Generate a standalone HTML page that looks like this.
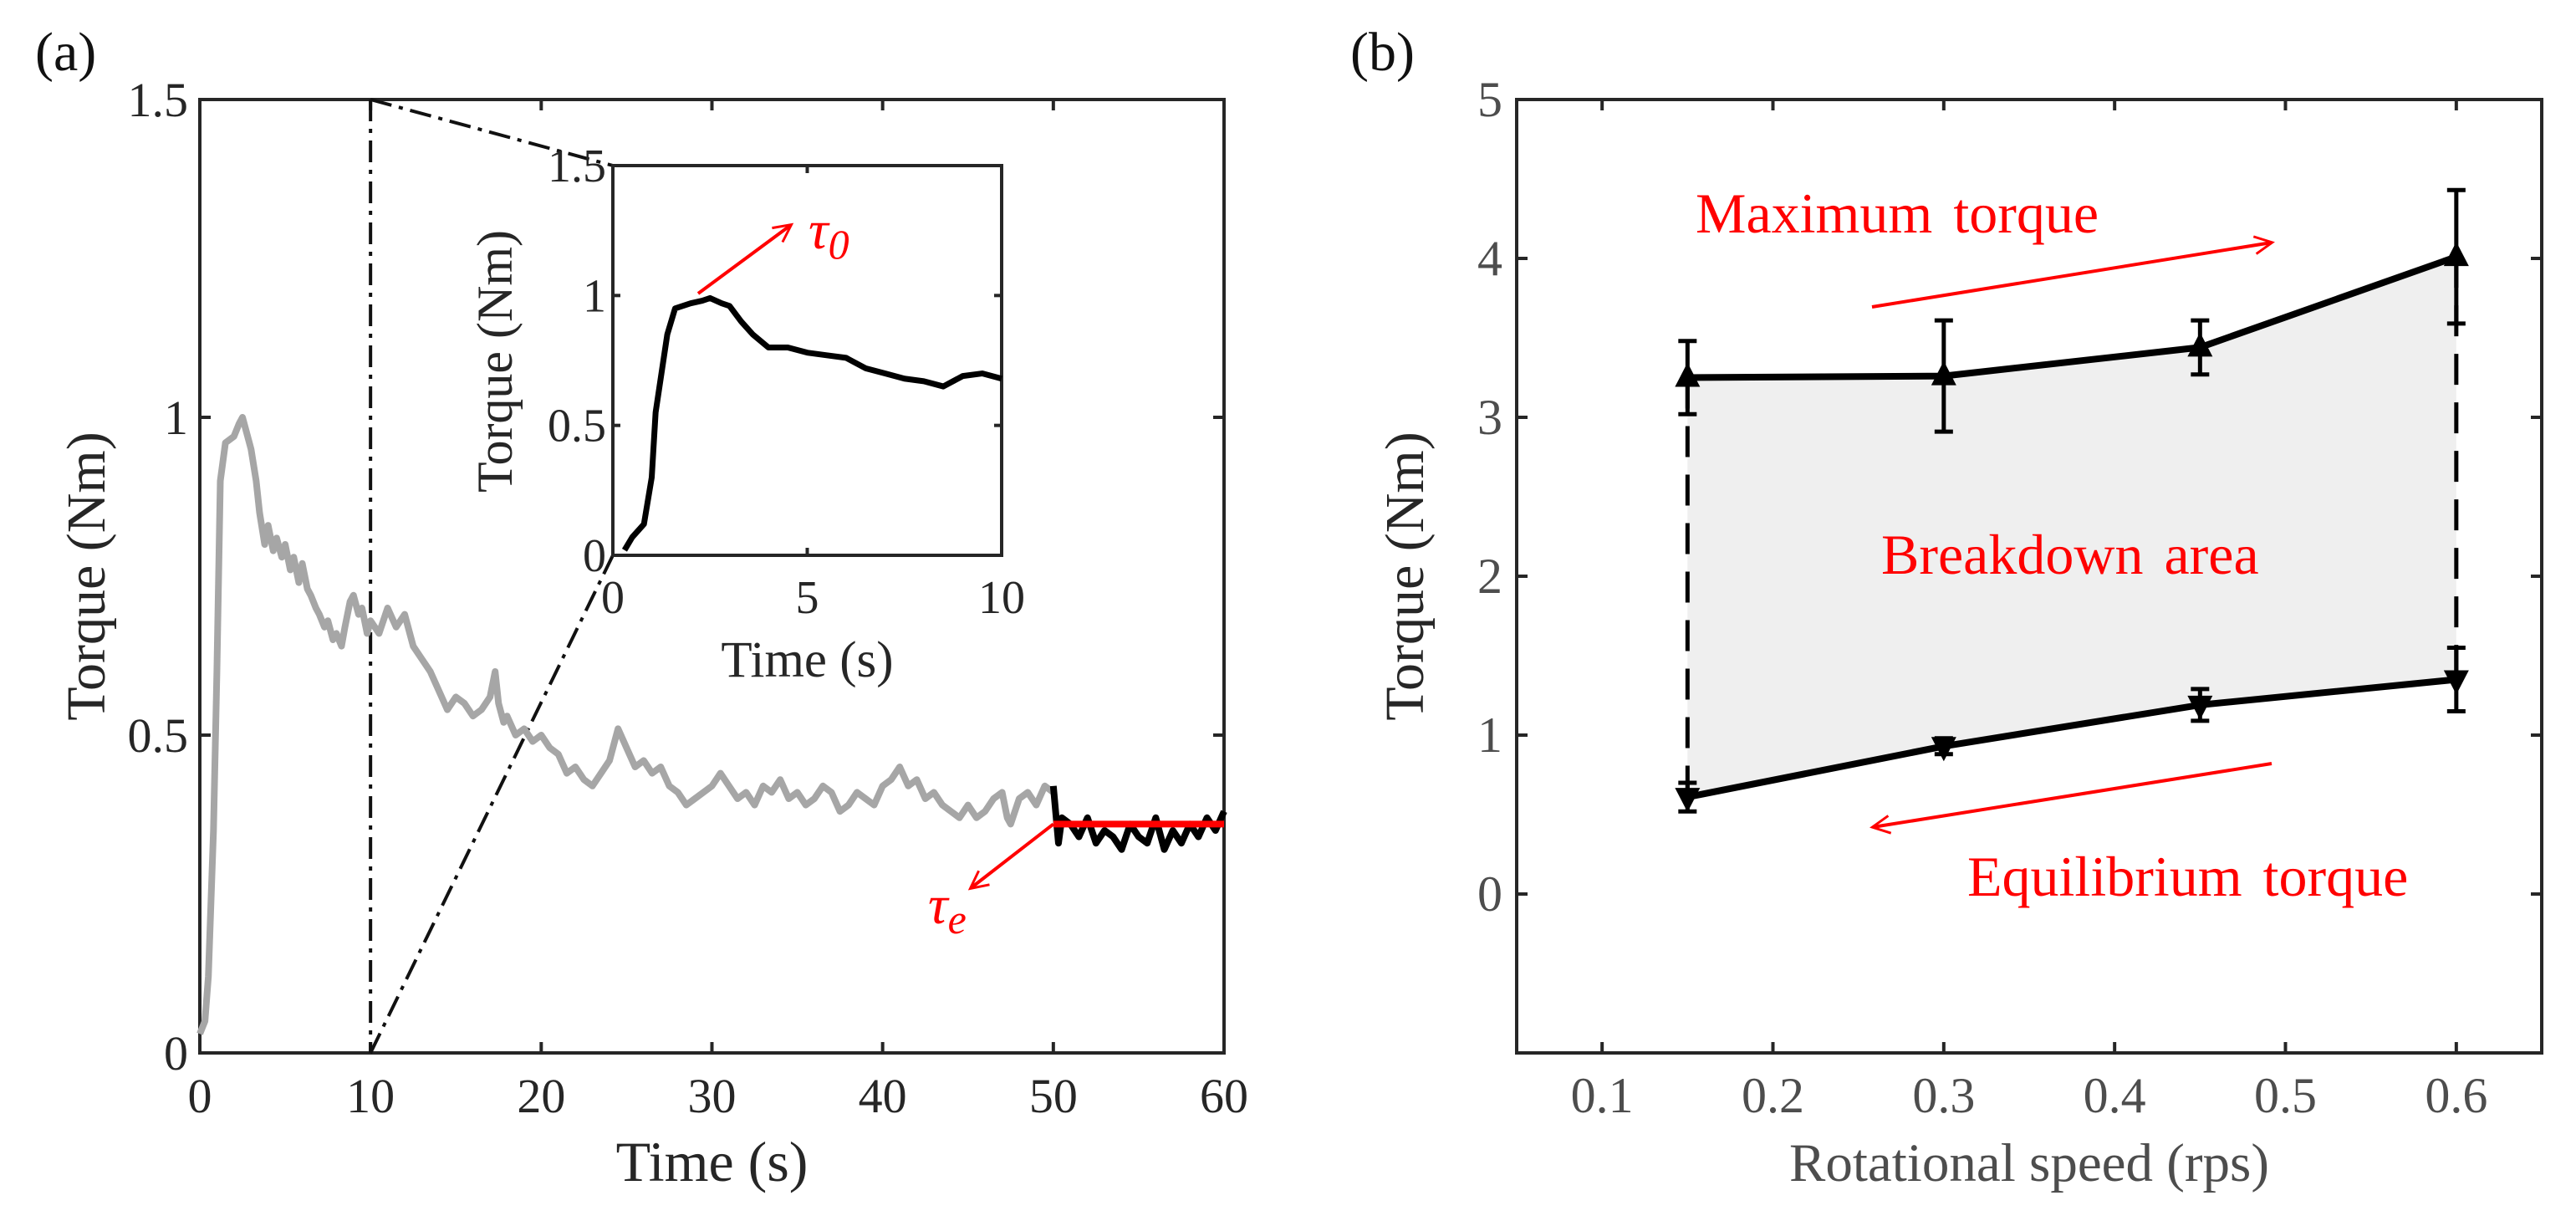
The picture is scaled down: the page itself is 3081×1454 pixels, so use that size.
<!DOCTYPE html>
<html><head><meta charset="utf-8"><style>
html,body{margin:0;padding:0;background:#fff;overflow:hidden}
svg{display:block;font-family:"Liberation Serif",serif}
</style></head><body>
<svg id="fig" width="3081" height="1454" viewBox="0 0 3081 1454">
<defs>
<marker id="ah" viewBox="0 0 10 10" refX="9" refY="5" markerWidth="7" markerHeight="7" orient="auto-start-reverse" markerUnits="userSpaceOnUse" style="overflow:visible">
<path d="M0,0 L10,5 L0,10" fill="none" stroke="#ff0000" stroke-width="1.4" transform="scale(3)" transform-origin="10 5"/>
</marker>
</defs>
<g id="pa"></g>
<g id="pb"></g>
</svg>
<script>
// ---- Panel (a) data ----
const grayT = [0,0.3,0.5,0.8,1,1.2,1.5,2,2.3,2.5,2.8,3,3.3,3.5,3.8,4,4.3,4.5,4.8,5,5.3,5.5,5.8,6,6.3,6.5,6.8,7,7.3,7.5,7.8,8,8.3,8.5,8.8,9,9.3,9.5,9.8,10,10.5,11,11.5,12,12.5,13,13.5,14,14.5,15,15.5,16,16.5,17,17.3,17.5,17.8,18,18.5,19,19.5,20,20.5,21,21.5,22,22.5,23,23.5,24,24.5,25,25.5,26,26.5,27,27.5,28,28.5,29,29.5,30,30.5,31,31.5,32,32.5,33,33.5,34,34.5,35,35.5,36,36.5,37,37.5,38,38.5,39,39.5,40,40.5,41,41.5,42,42.5,43,43.5,44,44.5,45,45.5,46,46.5,47,47.3,47.5,48,48.5,49,49.5,50];
const grayV = [0.03,0.05,0.12,0.35,0.6,0.9,0.96,0.97,0.99,1.0,0.97,0.95,0.9,0.85,0.8,0.83,0.79,0.81,0.78,0.8,0.76,0.78,0.74,0.77,0.73,0.72,0.7,0.69,0.67,0.68,0.65,0.66,0.64,0.67,0.71,0.72,0.69,0.7,0.66,0.68,0.66,0.7,0.67,0.69,0.64,0.62,0.6,0.57,0.54,0.56,0.55,0.53,0.54,0.56,0.6,0.55,0.52,0.53,0.5,0.51,0.49,0.5,0.48,0.47,0.44,0.45,0.43,0.42,0.44,0.46,0.51,0.48,0.45,0.46,0.44,0.45,0.42,0.41,0.39,0.4,0.41,0.42,0.44,0.42,0.4,0.41,0.39,0.42,0.41,0.43,0.4,0.41,0.39,0.4,0.42,0.41,0.38,0.39,0.41,0.4,0.39,0.42,0.43,0.45,0.42,0.43,0.4,0.41,0.39,0.38,0.37,0.39,0.37,0.38,0.4,0.41,0.37,0.36,0.4,0.41,0.39,0.42,0.41];
const blackT = [50,50.3,50.5,51,51.5,52,52.5,53,53.5,54,54.5,55,55.5,56,56.5,57,57.5,58,58.5,59,59.5,60];
const blackV = [0.42,0.33,0.37,0.36,0.34,0.37,0.33,0.35,0.34,0.32,0.36,0.34,0.33,0.37,0.32,0.35,0.33,0.36,0.34,0.37,0.35,0.38];
const tauE = 0.36;
const insetT = [0.3,0.5,0.8,1.0,1.1,1.2,1.4,1.6,2,2.3,2.5,2.8,3,3.3,3.6,4,4.5,5,5.5,6,6.5,7,7.5,8,8.5,9,9.5,10];
const insetV = [0.02,0.07,0.12,0.3,0.55,0.65,0.85,0.95,0.97,0.98,0.99,0.97,0.96,0.9,0.85,0.8,0.8,0.78,0.77,0.76,0.72,0.7,0.68,0.67,0.65,0.69,0.7,0.68];
const aXTicks = [0,10,20,30,40,50,60];
const aYTicks = [0,0.5,1,1.5];
const aYLabels = ["0","0.5","1","1.5"];
const inXTicks = [0,5,10];
// ---- Panel (b) data ----
const speeds = [0.15,0.3,0.45,0.6];
const maxTorque = [3.25,3.26,3.44,4.01];
const maxErr = [0.23,0.35,0.17,0.42];
const eqTorque = [0.61,0.93,1.19,1.35];
const eqErr = [0.09,0.05,0.1,0.2];
const bXTicks = [0.1,0.2,0.3,0.4,0.5,0.6];
const bYTicks = [0,1,2,3,4,5];

const NS="http://www.w3.org/2000/svg";
function mk(parent,tag,attrs,text){const e=document.createElementNS(NS,tag);for(const k in attrs)e.setAttribute(k,attrs[k]);if(text!==undefined)e.textContent=text;parent.appendChild(e);return e;}
const pa=document.getElementById('pa'), pb=document.getElementById('pb');

// axes geometry
const AL=239,AR=1464,AT=119,AB=1259;
const IL=733,IR=1198,IT=198,IB=664;
const BL=1814,BR=3040,BT=119,BB=1259;
const ax=t=>AL+t*(AR-AL)/60, ay=v=>AB-v*(AB-AT)/1.5;
const ix=t=>IL+t*(IR-IL)/10, iy=v=>IB-v*(IB-IT)/1.5;
const bx=s=>BL+(s-0.05)*(BR-BL)/0.6, by=v=>BB-(v+1)*(BB-BT)/6;
const TC='#262626';

// Panel a
let lab=mk(pa,'text',{x:42,y:84,'font-size':66,fill:'#111'},'(a)');

let fr=mk(pa,'rect',{x:AL,y:AT,width:AR-AL,height:AB-AT,fill:'none',stroke:TC,'stroke-width':4});

aXTicks.forEach(t=>{const x=ax(t);
 mk(pa,'line',{x1:x,y1:AB,x2:x,y2:AB-13,stroke:TC,'stroke-width':4});
 mk(pa,'line',{x1:x,y1:AT,x2:x,y2:AT+13,stroke:TC,'stroke-width':4});
 const e=mk(pa,'text',{x:x,y:1330,'font-size':58,'text-anchor':'middle',fill:TC},String(t));
 });
aYTicks.forEach((v,i)=>{const y=ay(v);
 mk(pa,'line',{x1:AL,y1:y,x2:AL+13,y2:y,stroke:TC,'stroke-width':4});
 mk(pa,'line',{x1:AR,y1:y,x2:AR-13,y2:y,stroke:TC,'stroke-width':4});
 const e=mk(pa,'text',{x:225,y:y+20,'font-size':58,'text-anchor':'end',fill:TC},aYLabels[i]);
 });
let xt=mk(pa,'text',{x:(AL+AR)/2,y:1412,'font-size':68,'text-anchor':'middle',fill:TC},'Time (s)');

let yt=mk(pa,'text',{x:0,y:0,'font-size':66,'text-anchor':'middle',fill:TC,transform:'translate(125,689) rotate(-90)'},'Torque (Nm)');

const dd={stroke:'#111','stroke-width':4,'stroke-dasharray':'26 9 5 9',fill:'none'};
let l1=mk(pa,'line',Object.assign({x1:ax(10),y1:ay(1.5),x2:ax(10),y2:ay(0)},dd));

let l2=mk(pa,'line',Object.assign({x1:ax(10),y1:ay(1.5),x2:ix(0),y2:iy(1.5)},dd));

let l3=mk(pa,'line',Object.assign({x1:ax(10),y1:ay(0),x2:ix(0),y2:iy(0)},dd));

let gp=mk(pa,'polyline',{points:grayT.map((t,i)=>ax(t)+','+ay(grayV[i])).join(' '),fill:'none',stroke:'#a6a6a6','stroke-width':8,'stroke-linejoin':'round'});

let bp=mk(pa,'polyline',{points:blackT.map((t,i)=>ax(t)+','+ay(blackV[i])).join(' '),fill:'none',stroke:'#000','stroke-width':8,'stroke-linejoin':'round'});

let rl=mk(pa,'line',{x1:ax(50),y1:ay(tauE),x2:ax(60),y2:ay(tauE),stroke:'#ff0000','stroke-width':8});

let a1=mk(pa,'line',{x1:ax(50),y1:ay(tauE),x2:1161,y2:1062,stroke:'#ff0000','stroke-width':4,'marker-end':'url(#ah)'});

let te=mk(pa,'text',{x:1110,y:1104,'font-size':66,'font-style':'italic',fill:'#ff0000'});

mk(te,'tspan',{},'τ');mk(te,'tspan',{'font-size':50,dy:12},'e');
// inset
let ib=mk(pa,'rect',{x:IL,y:IT,width:IR-IL,height:IB-IT,fill:'#fff',stroke:TC,'stroke-width':4});

inXTicks.forEach(t=>{const x=ix(t);
 mk(pa,'line',{x1:x,y1:IB,x2:x,y2:IB-9,stroke:TC,'stroke-width':4});
 mk(pa,'line',{x1:x,y1:IT,x2:x,y2:IT+9,stroke:TC,'stroke-width':4});
 const e=mk(pa,'text',{x:x,y:733,'font-size':56,'text-anchor':'middle',fill:TC},String(t));
 });
aYTicks.forEach((v,i)=>{const y=iy(v);
 mk(pa,'line',{x1:IL,y1:y,x2:IL+9,y2:y,stroke:TC,'stroke-width':4});
 mk(pa,'line',{x1:IR,y1:y,x2:IR-9,y2:y,stroke:TC,'stroke-width':4});
 const e=mk(pa,'text',{x:725,y:y+19,'font-size':56,'text-anchor':'end',fill:TC},aYLabels[i]);
 });
let ixt=mk(pa,'text',{x:(IL+IR)/2,y:809,'font-size':61,'text-anchor':'middle',fill:TC},'Time (s)');

let iyt=mk(pa,'text',{x:0,y:0,'font-size':60,'text-anchor':'middle',fill:TC,transform:'translate(612,432) rotate(-90)'},'Torque (Nm)');

let ip=mk(pa,'polyline',{points:insetT.map((t,i)=>ix(t)+','+iy(insetV[i])).join(' '),fill:'none',stroke:'#000','stroke-width':7,'stroke-linejoin':'round'});

let a0=mk(pa,'line',{x1:835,y1:351,x2:946,y2:269,stroke:'#ff0000','stroke-width':4,'marker-end':'url(#ah)'});

let t0=mk(pa,'text',{x:967,y:297,'font-size':66,'font-style':'italic',fill:'#ff0000'});

mk(t0,'tspan',{},'τ');mk(t0,'tspan',{'font-size':50,dy:12},'0');

// Panel b
let lb=mk(pb,'text',{x:1615,y:84,'font-size':66,fill:'#111'},'(b)');

const poly=speeds.map((s,i)=>bx(s)+','+by(maxTorque[i])).concat(speeds.slice().reverse().map((s,j)=>{const i=speeds.length-1-j;return bx(s)+','+by(eqTorque[i]);}));
let fa=mk(pb,'polygon',{points:poly.join(' '),fill:'#efefef',stroke:'none'});

[0,speeds.length-1].forEach(i=>{const e=mk(pb,'line',{x1:bx(speeds[i]),y1:by(maxTorque[i]),x2:bx(speeds[i]),y2:by(eqTorque[i]),stroke:'#000','stroke-width':5,'stroke-dasharray':'37 21'});
 });
let fb=mk(pb,'rect',{x:BL,y:BT,width:BR-BL,height:BB-BT,fill:'none',stroke:TC,'stroke-width':4});

bXTicks.forEach(t=>{const x=bx(t);
 mk(pb,'line',{x1:x,y1:BB,x2:x,y2:BB-13,stroke:TC,'stroke-width':4});
 mk(pb,'line',{x1:x,y1:BT,x2:x,y2:BT+13,stroke:TC,'stroke-width':4});
 const e=mk(pb,'text',{x:x,y:1330,'font-size':60,'text-anchor':'middle',fill:'#4d4d4d'},t.toFixed(1));
 });
bYTicks.forEach(v=>{const y=by(v);
 mk(pb,'line',{x1:BL,y1:y,x2:BL+13,y2:y,stroke:TC,'stroke-width':4});
 mk(pb,'line',{x1:BR,y1:y,x2:BR-13,y2:y,stroke:TC,'stroke-width':4});
 const e=mk(pb,'text',{x:1797,y:y+20,'font-size':60,'text-anchor':'end',fill:'#4d4d4d'},String(v));
 });
let bxt=mk(pb,'text',{x:(BL+BR)/2,y:1412,'font-size':65,'text-anchor':'middle',fill:'#4d4d4d'},'Rotational speed (rps)');

let byt=mk(pb,'text',{x:0,y:0,'font-size':66,'text-anchor':'middle',fill:TC,transform:'translate(1702,689) rotate(-90)'},'Torque (Nm)');

function series(vals,errs,up,name){
 speeds.forEach((s,i)=>{const x=bx(s),y1=by(vals[i]+errs[i]),y2=by(vals[i]-errs[i]);
  const g=mk(pb,'g',{});
  
  mk(g,'line',{x1:x,y1:y1,x2:x,y2:y2,stroke:'#000','stroke-width':5});
  mk(g,'line',{x1:x-11,y1:y1,x2:x+11,y2:y1,stroke:'#000','stroke-width':5});
  mk(g,'line',{x1:x-11,y1:y2,x2:x+11,y2:y2,stroke:'#000','stroke-width':5});});
 const ln=mk(pb,'polyline',{points:speeds.map((s,i)=>bx(s)+','+by(vals[i])).join(' '),fill:'none',stroke:'#000','stroke-width':8,'stroke-linejoin':'round'});
 
 speeds.forEach((s,i)=>{const x=bx(s),y=by(vals[i]);
  const p=up?`${x-15},${y+11} ${x+15},${y+11} ${x},${y-18}`:`${x-15},${y-11} ${x+15},${y-11} ${x},${y+18}`;
  const m=mk(pb,'polygon',{points:p,fill:'#000'});
  });
}
series(maxTorque,maxErr,true,'max-torque');
series(eqTorque,eqErr,false,'eq-torque');
let ar1=mk(pb,'line',{x1:2239,y1:367,x2:2717,y2:290,stroke:'#ff0000','stroke-width':4,'marker-end':'url(#ah)'});

let ar2=mk(pb,'line',{x1:2717,y1:913,x2:2240,y2:989,stroke:'#ff0000','stroke-width':4,'marker-end':'url(#ah)'});

let mt=mk(pb,'text',{x:2028,y:278,'font-size':68,'word-spacing':8,fill:'#ff0000'},'Maximum torque');

let bt=mk(pb,'text',{x:2250,y:686,'font-size':68,'word-spacing':8,fill:'#ff0000'},'Breakdown area');

let et=mk(pb,'text',{x:2353,y:1071,'font-size':68,'word-spacing':8,fill:'#ff0000'},'Equilibrium torque');

</script>
</body></html>
